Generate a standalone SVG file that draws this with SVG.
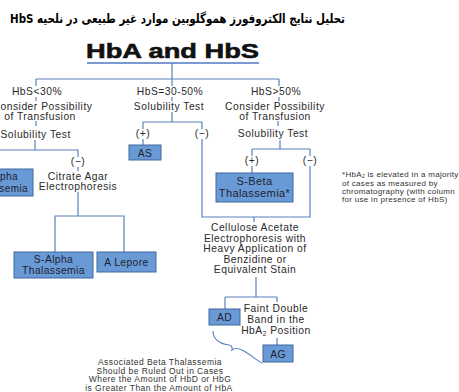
<svg xmlns="http://www.w3.org/2000/svg" width="459" height="392" viewBox="0 0 459 392">
<style>
.t{font-family:"Liberation Sans",Arial,sans-serif;font-size:10.3px;letter-spacing:0.5px;fill:#2a2a2a;text-anchor:middle}
.bt{font-family:"Liberation Sans",Arial,sans-serif;font-size:10.3px;letter-spacing:0.4px;fill:#1c2230;text-anchor:middle}
.n{font-family:"Liberation Sans",Arial,sans-serif;font-size:8px;letter-spacing:0.3px;fill:#333}
.nc{font-family:"Liberation Sans",Arial,sans-serif;font-size:8.5px;letter-spacing:0.45px;fill:#333;text-anchor:middle}
.ln{fill:none;stroke:#5a80c0;stroke-width:1.2}
.bx{fill:#6a9ad6;stroke:#41699f;stroke-width:1}
</style>
<rect width="459" height="392" fill="#ffffff"/>
<g id="header">
<text x="177.5" y="22.5" direction="rtl" text-anchor="middle" textLength="335" lengthAdjust="spacingAndGlyphs" style="font-family:'DejaVu Sans',sans-serif;font-size:13px;font-weight:bold;fill:#000">تحلیل نتایج الکتروفورز هموگلوبین موارد غیر طبیعی در نلحیه HbS</text>
<text x="172.5" y="58" text-anchor="middle" textLength="173" lengthAdjust="spacingAndGlyphs" stroke="#111" stroke-width="0.6" style="font-family:'Liberation Sans',Arial,sans-serif;font-size:21px;font-weight:bold;fill:#111">HbA and HbS</text>
<line x1="87" y1="63" x2="259" y2="63" stroke="#4f78bf" stroke-width="1.3"/>
</g>
<g id="connectors" class="ln">
<path d="M172,63V79M36,79H279M36,79V86M172,79V86M279,79V86"/>
<path d="M36,97V101M36,121V126M35,140V150M0,150H78V157M78,167V171M78,192V216M55,252V216H124V252"/>
<path d="M172,97V101M172,112V122M143,122H202M143,122V129M202,122V129M143,139V145M202,139V217H310V166"/>
<path d="M279,97V101M278,121V126M280,140V149M252,149H310M252,149V156M310,149V156M252,166V173M254,217V222"/>
<path d="M256,277V297M225,297H277M225,297V309M277,297V302M277,338V345"/>
<path d="M213,331C213,340 221,344 229,345Q233,346 232,350Q236,347 242,350C250,354 256,360 262,363"/>
</g>
<g id="n-lt30">
<text class="t" x="37" y="95">HbS&lt;30%</text>
<text class="t" x="0.5" y="110" style="text-anchor:start">onsider Possibility</text>
<text class="t" x="40" y="120">of Transfusion</text>
<text class="t" x="0.5" y="138" style="text-anchor:start">Solubility Test</text>
</g>
<g id="n-alpha">
<rect class="bx" x="-45" y="169" width="78" height="27"/>
<text class="bt" x="18" y="180" style="font-size:10px;text-anchor:end">pha</text>
<text class="bt" x="28" y="192" style="font-size:10px;text-anchor:end">semia</text>
</g>
<g id="n-citrate">
<text class="t" x="78" y="165">(−)</text>
<text class="t" x="78" y="180">Citrate Agar</text>
<text class="t" x="78" y="190">Electrophoresis</text>
</g>
<g id="n-salpha">
<rect class="bx" x="14" y="252" width="79" height="26"/>
<text class="bt" x="53.5" y="263">S-Alpha</text>
<text class="bt" x="53.5" y="274">Thalassemia</text>
</g>
<g id="n-lepore">
<rect class="bx" x="97" y="252" width="59" height="20"/>
<text class="bt" x="126.5" y="266">A Lepore</text>
</g>
<g id="n-mid">
<text class="t" x="170" y="95">HbS=30-50%</text>
<text class="t" x="169" y="110">Solubility Test</text>
<text class="t" x="143" y="137">(+)</text>
<text class="t" x="202" y="137">(−)</text>
</g>
<g id="n-as">
<rect class="bx" x="129" y="145" width="32" height="15"/>
<text class="bt" x="145" y="156.5">AS</text>
</g>
<g id="n-gt50">
<text class="t" x="276" y="95">HbS&gt;50%</text>
<text class="t" x="275" y="110">Consider Possibility</text>
<text class="t" x="275" y="120">of Transfusion</text>
<text class="t" x="273" y="137">Solubility Test</text>
<text class="t" x="252" y="164">(+)</text>
<text class="t" x="310" y="164">(−)</text>
</g>
<g id="n-sbeta">
<rect class="bx" x="216" y="173" width="77" height="29"/>
<text class="bt" x="254.5" y="185" style="font-size:11px">S-Beta</text>
<text class="bt" x="254.5" y="197" style="font-size:11px">Thalassemia*</text>
</g>
<g id="n-note">
<text class="n" x="342" y="177">*HbA<tspan font-size="5" dy="1.2">2</tspan><tspan dy="-1.2"> is elevated in a majority</tspan></text>
<text class="n" x="342" y="186">of cases as measured by</text>
<text class="n" x="342" y="194">chromatography (with column</text>
<text class="n" x="342" y="202">for use in presence of HbS)</text>
</g>
<g id="n-cellulose">
<text class="t" x="255" y="231">Cellulose Acetate</text>
<text class="t" x="255" y="242">Electrophoresis with</text>
<text class="t" x="255" y="252">Heavy Application of</text>
<text class="t" x="255" y="263">Benzidine  or</text>
<text class="t" x="255" y="273">Equivalent Stain</text>
</g>
<g id="n-ad">
<rect class="bx" x="209" y="309" width="31" height="16"/>
<text class="bt" x="224.5" y="321">AD</text>
</g>
<g id="n-faint">
<text class="t" x="276" y="312">Faint Double</text>
<text class="t" x="276" y="323">Band in the</text>
<text class="t" x="276" y="334">HbA<tspan font-size="6.5" dy="2">2</tspan><tspan dy="-2"> Position</tspan></text>
</g>
<g id="n-ag">
<rect class="bx" x="263" y="345" width="30" height="17"/>
<text class="bt" x="278" y="357.5">AG</text>
</g>
<g id="n-assoc">
<text class="nc" x="160" y="365">Associated Beta Thalassemia</text>
<text class="nc" x="160" y="373.5">Should be Ruled Out in Cases</text>
<text class="nc" x="160" y="382">Where the Amount of HbD or HbG</text>
<text class="nc" x="159" y="390.5">is Greater Than the Amount of HbA</text>
</g>
</svg>
